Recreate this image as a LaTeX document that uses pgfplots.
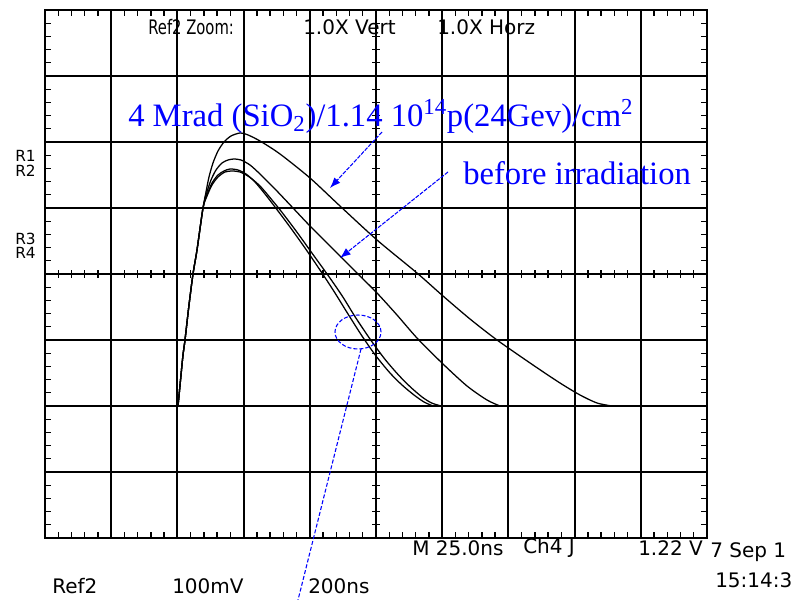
\documentclass[border=0pt]{standalone}
\usepackage{pgfplots}
\pgfplotsset{compat=1.18}
\usepackage{fontspec}
\setmainfont{DejaVu Sans}
\newfontfamily\bluefont{Liberation Serif}
\usetikzlibrary{arrows.meta}
\begin{document}
\begin{tikzpicture}[x=1pt,y=1pt]
\path[use as bounding box] (-33.75,-46.5) rectangle (561,403.5);
\begin{axis}[at={(0,0)},anchor=south west,scale only axis,
  width=496.5pt,height=396pt,
  xmin=0,xmax=250,ymin=-400,ymax=400,
  xtick={0,25,...,250},ytick={-400,-300,...,400},
  xticklabels={},yticklabels={},
  major tick length=0pt,minor tick length=4.5pt,
  minor x tick num=4,minor y tick num=4,
  tick align=inside,
  tick style={black,line width=1pt},
  grid=major,major grid style={black,line width=1.5pt},
  axis line style={black,line width=1.6pt},
  every axis plot/.append style={black,line width=0.95pt,mark=none}]
% baseline before and after the pulse
\addplot[line width=1.6pt] coordinates {(0.5,-200) (50.23,-200)};
\addplot[line width=1.9pt] coordinates {(146.5,-200) (250,-200)};
% curve A (4 Mrad)
\addplot[smooth,tension=0.45] coordinates {
(50.23,-200) (50.60,-184.85) (51.36,-153.03) (52.11,-122.73) (52.87,-100)
(54.38,-46.97) (55.89,0) (57.40,36.36) (59.67,100)
(60.80,124.24) (61.93,146.97) (63.44,168.18) (65.33,186.36) (67.60,200)
(70.24,209.09) (73.64,213.64) (76.28,211.36) (81.19,201.52) (88.75,181.82)
(100.08,145.45) (111.40,103.03) (125.38,51.52) (140.48,1.52) (150.30,-33.33)
(160.50,-68.18) (170.70,-100) (184.29,-137.88) (194.49,-165.15)
(202.04,-183.33) (208.46,-195.45) (214.12,-200)};
% curve B (before irradiation)
\addplot[smooth,tension=0.45] coordinates {
(50.23,-200) (50.60,-184.85) (51.36,-153.03) (52.11,-122.73) (52.87,-100)
(54.38,-46.97) (55.89,0) (57.40,36.36) (59.67,100)
(61.18,124.24) (62.69,142.42) (64.58,157.58) (66.84,168.18) (69.11,172.73)
(71.37,174.24) (74.02,172.73) (77.42,165.15) (81.19,151.52) (86.86,128.79)
(93.66,100) (100.08,72.73) (109.52,34.85) (117.82,1.52) (125.38,-28.79)
(132.93,-62.12) (140.48,-96.97) (150.30,-136.36) (159.37,-169.70)
(166.92,-190.91) (171.83,-200)};
% curve C
\addplot[smooth,tension=0.45] coordinates {
(50.23,-200) (50.60,-184.85) (51.36,-153.03) (52.11,-122.73) (52.87,-100)
(54.38,-46.97) (55.89,0) (57.40,36.36) (59.67,100)
(61.18,119.70) (63.07,137.88) (65.33,150.00) (67.60,156.06) (69.86,159.09)
(72.88,157.58) (75.91,151.52) (79.31,139.39) (83.08,121.21) (86.86,101.52)
(92.52,71.21) (98.19,39.39) (104.61,1.52) (109.52,-28.79) (114.43,-60.61)
(119.71,-93.94) (125.00,-124.24) (130.29,-150.00) (134.82,-168.18)
(139.35,-183.33) (143.13,-193.94) (146.53,-200)};
% curve D
\addplot[smooth,tension=0.45] coordinates {
(50.23,-200) (50.60,-184.85) (51.36,-153.03) (52.11,-122.73) (52.87,-100)
(54.38,-46.97) (55.89,0) (57.40,36.36) (59.67,100)
(61.18,118.18) (63.07,134.85) (65.33,146.97) (67.98,154.55) (70.62,156.06)
(73.64,154.55) (77.20,146.97) (81.20,133.33) (85.10,115.15) (89.40,93.94)
(95.10,63.64) (100.80,31.82) (107.60,-6.06) (112.50,-34.85) (117.40,-66.67)
(123.00,-100) (128.30,-128.79) (133.50,-153.03) (138.00,-171.21)
(142.40,-186.36) (146.00,-195.45) (149.60,-200)};
\end{axis}
% ticks on the centre lines
\foreach \i in {1,...,49} \draw[line width=1pt] (\i*9.93,195) -- (\i*9.93,201);
\foreach \j in {1,...,39} \draw[line width=1pt] (245.25,\j*9.9) -- (251.25,\j*9.9);
% scope texts
\begin{scope}[every node/.style={inner sep=0pt,anchor=west,font=\fontsize{15}{15}\selectfont}]
\node at (77.25,383.25) {\scalebox{0.74}[1]{Ref2 Zoom:}};
\node at (193.5,383.25) {1.0X Vert};
\node at (294,383.25) {1.0X Horz};
\node at (275.25,-7.5) {M 25.0ns};
\node at (358.5,-7.5) {Ch4 J};
\node at (444.75,-7.5) {1.22 V};
\node at (498.75,-10.5) {7 Sep 1};
\node at (502.5,-31.5) {15:14:3};
\node at (5.25,-36) {Ref2};
\node at (95.25,-36) {100mV};
\node at (197.25,-36) {200ns};
\end{scope}
\begin{scope}[every node/.style={inner sep=0pt,anchor=west,font=\fontsize{11.5}{11.5}\selectfont}]
\node at (-22.5,286.5) {R1};
\node at (-22.5,275.25) {R2};
\node at (-22.5,224.25) {R3};
\node at (-22.5,213.75) {R4};
\end{scope}
% blue annotations
\begin{scope}[blue]
\node[inner sep=0pt,anchor=base west,font=\bluefont\fontsize{24.5}{24.5}\selectfont]
  at (62.25,308.25) {4 Mrad (SiO\textsubscript{2})/1.14 10\textsuperscript{14}p(24Gev)/cm\textsuperscript{2}};
\node[inner sep=0pt,anchor=base west,font=\bluefont\fontsize{24.5}{24.5}\selectfont]
  at (313.5,264.75) {before irradiation};
\draw[line width=0.8pt,dash pattern=on 3pt off 1pt,-{Latex[length=8pt,width=6pt]}] (252.75,304.5) -- (213.75,262.5);
\draw[line width=0.8pt,dash pattern=on 3pt off 1pt,-{Latex[length=8pt,width=6pt]}] (302.25,274.5) -- (221.25,210);
\draw[line width=0.8pt,dash pattern=on 3pt off 1.5pt] (234.75,154.5) ellipse [x radius=17.25, y radius=12.75];
\draw[line width=0.8pt,dash pattern=on 3pt off 1.5pt] (237,141.75) -- (189.75,-46.5);
\end{scope}
\end{tikzpicture}
\end{document}
